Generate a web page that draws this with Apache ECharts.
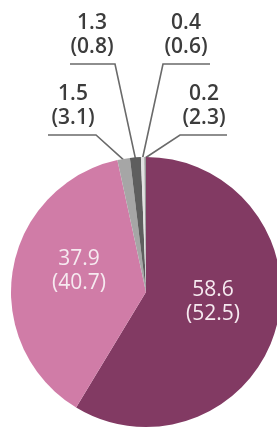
<!DOCTYPE html>
<html>
<head>
<meta charset="utf-8">
<style>
  html, body { margin: 0; padding: 0; background: #ffffff; }
  #chart { width: 277px; height: 428px; }
</style>
<script src="https://cdn.jsdelivr.net/npm/echarts@6/dist/echarts.min.js"></script>
</head>
<body>
<div id="chart"></div>
<script>
// ---- data ----
const categories = ['A', 'B', 'C', 'D', 'E', 'F'];
const currentValues = [58.6, 37.9, 1.5, 1.3, 0.4, 0.2];
const previousValues = [52.5, 40.7, 3.1, 0.8, 0.6, 2.3];

// ---- styles / layout (not data) ----
const sliceColors = ['#823a63', '#d07ca7', '#a6a6a6', '#5e5e5e', '#e2e2e2', '#9a9a9a'];
const insideLabel = [true, true, false, false, false, false];
// label block centre and underline [elbowX, endX, lineY]
const labelLayoutSpec = [
  { x: 213, y: 302 },
  { x: 79, y: 271 },
  { x: 73, y: 106, line: [96, 48, 135] },
  { x: 92, y: 35, line: [115, 70, 64] },
  { x: 186, y: 35, line: [163, 210, 64] },
  { x: 204, y: 106, line: [180, 227, 135] }
];

const chart = echarts.init(document.getElementById('chart'), null, { renderer: 'canvas' });

const data = categories.map((name, i) => ({
  name: name,
  value: currentValues[i],
  prev: previousValues[i],
  itemStyle: { color: sliceColors[i] },
  label: insideLabel[i]
    ? { color: '#f6eaf0', fontWeight: 'normal' }
    : { color: '#3c3c3c', fontWeight: 600 },
  labelLine: { show: !insideLabel[i] }
}));

chart.setOption({
  animation: false,
  series: [{
    type: 'pie',
    center: [146, 292],
    radius: 135,
    startAngle: 90,
    clockwise: true,
    avoidLabelOverlap: false,
    data: data,
    label: {
      show: true,
      position: 'outside',
      fontFamily: '"Open Sans", sans-serif',
      fontSize: 21,
      lineHeight: 24,
      align: 'center',
      formatter: function (p) {
        return currentValues[p.dataIndex].toFixed(1) + '\n(' + previousValues[p.dataIndex].toFixed(1) + ')';
      }
    },
    labelLine: {
      show: true,
      length: 10,
      length2: 10,
      lineStyle: { color: '#6a6a6a', width: 1.6 }
    },
    labelLayout: function (params) {
      const s = labelLayoutSpec[params.dataIndex];
      const out = { x: s.x, y: s.y, align: 'center', verticalAlign: 'middle' };
      if (s.line && params.labelLinePoints) {
        const start = params.labelLinePoints[0];
        out.labelLinePoints = [
          [start[0], start[1] + 1],
          [s.line[0], s.line[2]],
          [s.line[1], s.line[2]]
        ];
      }
      return out;
    }
  }]
});
</script>
</body>
</html>
